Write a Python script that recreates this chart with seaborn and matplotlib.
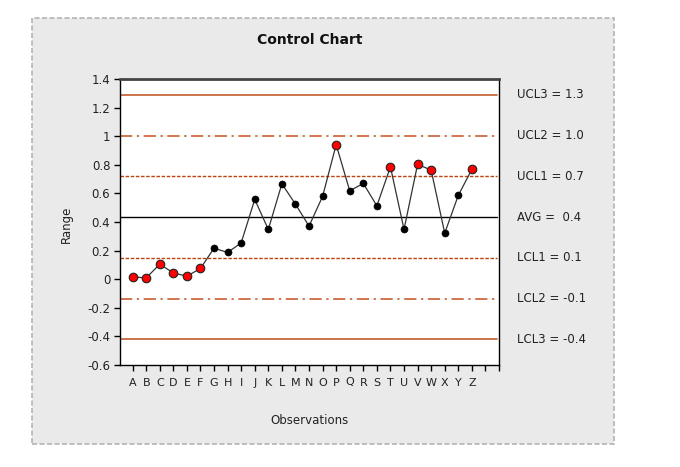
import matplotlib
matplotlib.use("Agg")
import matplotlib.pyplot as plt
import seaborn as sns
import pandas as pd
import numpy as np
from matplotlib.patches import Rectangle
import matplotlib.transforms as mtransforms

#data
observations = list("ABCDEFGHIJKLMNOPQRSTUVWXYZ")
values = [0.016, 0.009, 0.105, 0.044, 0.021, 0.075, 0.217, 0.187, 0.254, 0.558,
          0.348, 0.667, 0.525, 0.371, 0.579, 0.941, 0.618, 0.670, 0.513, 0.786,
          0.348, 0.803, 0.763, 0.322, 0.586, 0.768]
limit_names = ["UCL3", "UCL2", "UCL1", "AVG", "LCL1", "LCL2", "LCL3"]
limit_values = [1.289, 1.004, 0.719, 0.434, 0.149, -0.136, -0.421]
limit_labels = ["UCL3 = 1.3", "UCL2 = 1.0", "UCL1 = 0.7", "AVG =  0.4",
                "LCL1 = 0.1", "LCL2 = -0.1", "LCL3 = -0.4"]
ytick_vals = [-0.6, -0.4, -0.2, 0, 0.2, 0.4, 0.6, 0.8, 1.0, 1.2, 1.4]
ytick_labels = ["-0.6", "-0.4", "-0.2", "0", "0.2", "0.4", "0.6", "0.8", "1", "1.2", "1.4"]
xtick_labels = observations + ["", ""]

df = pd.DataFrame({"obs": observations, "value": values})
df["x"] = np.arange(len(df))
ucl1 = limit_values[2]
lcl1 = limit_values[4]
df["status"] = np.where((df["value"] > ucl1) | (df["value"] < lcl1), "out", "in")

sns.set_style("white")
plt.rcParams['font.family'] = ['DejaVu Sans']

fig = plt.figure(figsize=(6.8, 4.67), dpi=100)
fig.patch.set_facecolor("white")
# gray panel with dashed border
panel = Rectangle((32/680, 1-444/467), (614-32)/680, (444-18)/467,
                  transform=fig.transFigure, facecolor="#eaeaea",
                  edgecolor="#b4b4b4", linestyle=(0, (3, 1.5)), linewidth=1.2, zorder=-1)
fig.patches.append(panel)

ax = fig.add_axes([120/680, 1-365/467, (499-120)/680, (365-79)/467])
ax.set_facecolor("white")

#limit lines
styles = {
    "UCL3": dict(color="#c8693f", ls="-", lw=1.3),
    "UCL2": dict(color="#c5501f", ls=(0, (8, 3, 1.5, 3)), lw=1.1),
    "UCL1": dict(color="#c04010", ls=(0, (2.5, 1.2)), lw=1.0),
    "AVG": dict(color="black", ls="-", lw=1.0),
    "LCL1": dict(color="#c04010", ls=(0, (2.5, 1.2)), lw=1.0),
    "LCL2": dict(color="#c5501f", ls=(0, (8, 3, 1.5, 3)), lw=1.1),
    "LCL3": dict(color="#c8693f", ls="-", lw=1.3),
}
trans = mtransforms.blended_transform_factory(ax.transAxes, ax.transData)
for name, val, lab in zip(limit_names, limit_values, limit_labels):
    st = styles[name]
    ax.plot([0, 0.995], [val, val], transform=trans, color=st["color"],
            linestyle=st["ls"], linewidth=st["lw"], zorder=1)
    ax.text(1.047, val, lab, transform=trans, ha="left", va="center",
            fontsize=8.5, color="#222222", clip_on=False)

sns.lineplot(data=df, x="x", y="value", ax=ax, color="#333333", linewidth=0.9,
             zorder=2, legend=False)
sns.scatterplot(data=df[df["status"] == "in"], x="x", y="value", ax=ax,
                color="black", edgecolor="black", s=26, zorder=3, legend=False)
sns.scatterplot(data=df[df["status"] == "out"], x="x", y="value", ax=ax,
                color="#ff0000", edgecolor="#222222", linewidth=0.8, s=38,
                zorder=4, legend=False)

ax.set_xlim(-0.93, 27)
ax.set_ylim(-0.6, 1.4)
ax.set_xticks(range(len(xtick_labels)))
ax.set_xticklabels(xtick_labels, fontsize=8, color="#222222")
ax.set_yticks(ytick_vals)
ax.set_yticklabels(ytick_labels, fontsize=8.5, color="#222222")
ax.tick_params(direction="out", length=4, width=1, color="black", pad=3,
               bottom=True, left=True)
ax.tick_params(axis="x", pad=5)
ax.set_xlabel("")
ax.set_ylabel("")
for side in ["left", "bottom", "right"]:
    ax.spines[side].set_color("black")
    ax.spines[side].set_linewidth(1.0)
    ax.spines[side].set_visible(True)
ax.spines["top"].set_color("#444444")
ax.spines["top"].set_linewidth(2.0)
ax.spines["top"].set_visible(True)

fig.text(309.5/680, 1-40/467, "Control Chart", ha="center", va="center",
         fontsize=10, fontweight="bold", color="#111111")
fig.text(309.5/680, 1-421/467, "Observations", ha="center", va="center",
         fontsize=8.5, color="#222222")
fig.text(66/680, 1-224/467, "Range", ha="center", va="center",
         fontsize=8.5, rotation=90, color="#222222")

fig.savefig("out.png", dpi=100)
